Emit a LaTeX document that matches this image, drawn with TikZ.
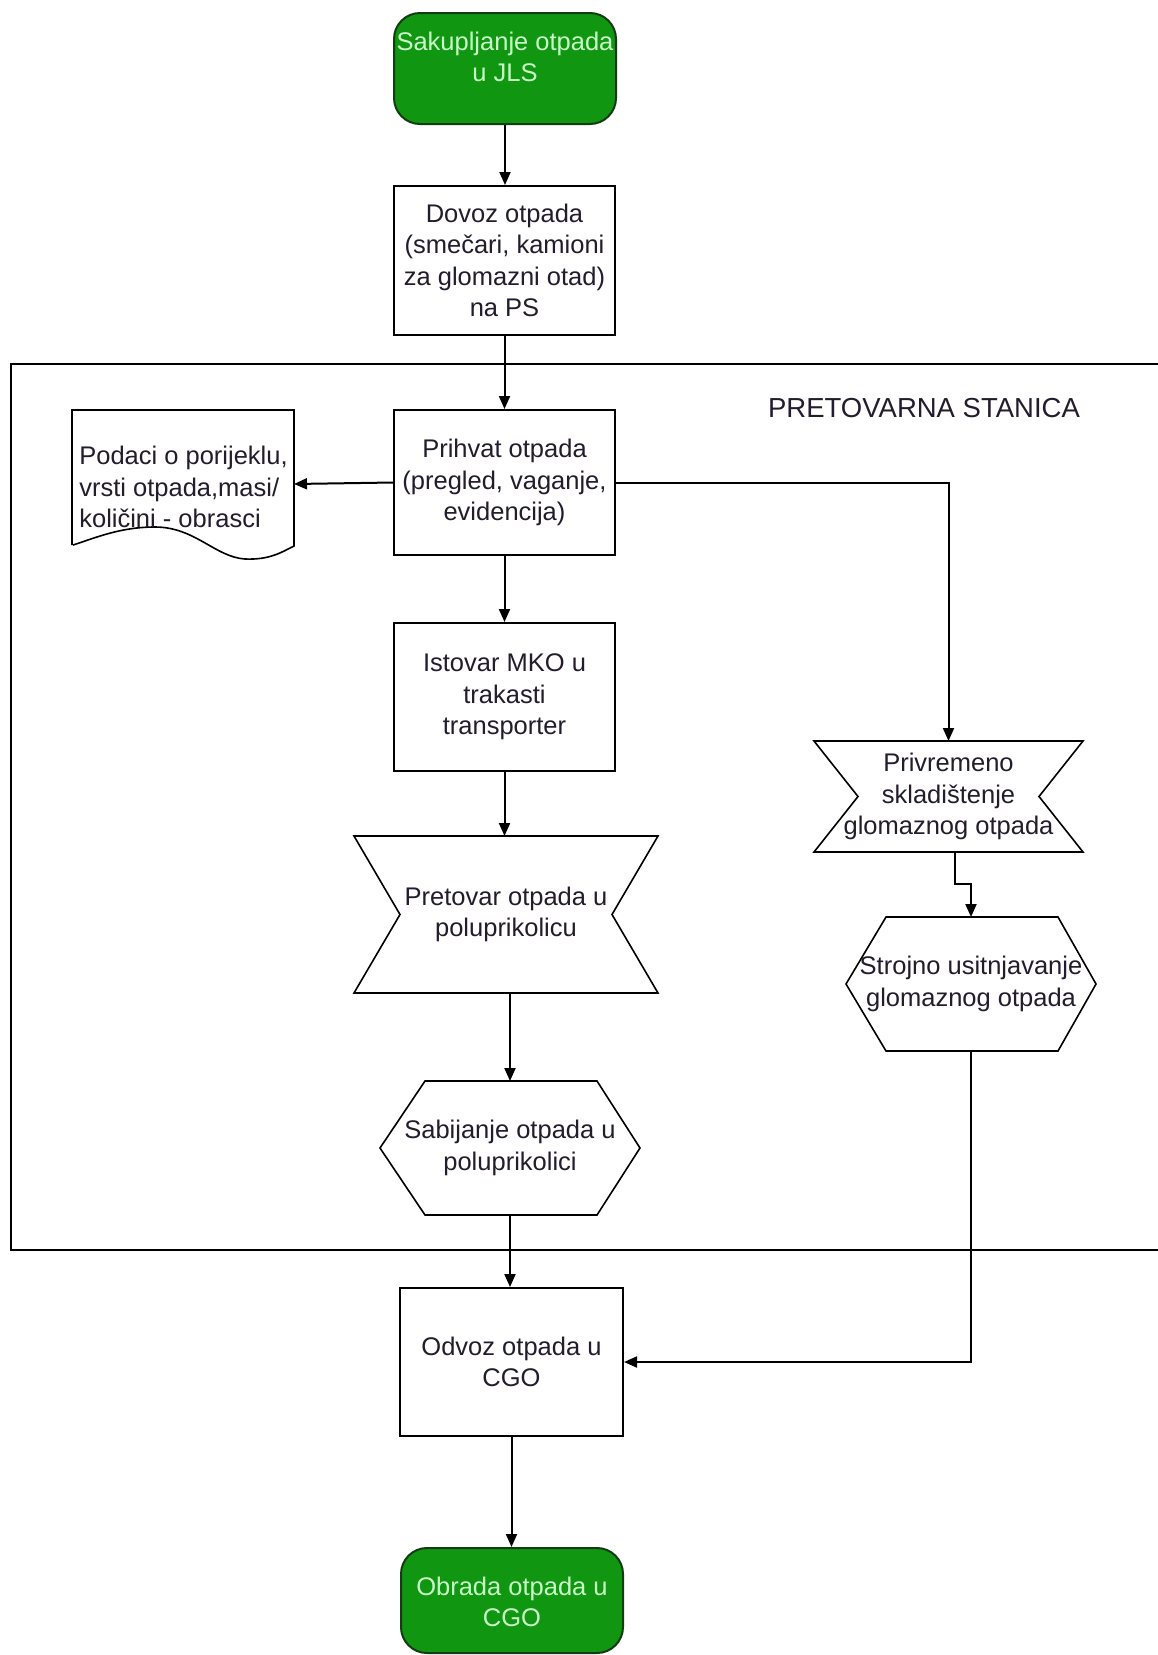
\documentclass[tikz,border=0pt]{standalone}
\usepackage{fontspec}
\setmainfont{Liberation Sans}
\usetikzlibrary{arrows.meta,calc}
\definecolor{gfill}{RGB}{16,150,16}
\definecolor{gline}{RGB}{20,60,20}
\definecolor{gtext}{RGB}{200,255,200}
\definecolor{ink}{RGB}{35,28,45}
\begin{document}
\begin{tikzpicture}[x=1pt,y=-1pt,line width=2pt,
  txt/.style={font=\fontsize{25.5}{31.5}\selectfont,text=ink,align=center},
  boxn/.style={txt,draw,rectangle,inner sep=0pt},
  ghost/.style={txt,rectangle,inner sep=0pt},
  term/.style={draw=gline,fill=gfill,rectangle,rounded corners=26pt,inner sep=0pt},
  shapeline/.style={line width=1.6pt},
  arr/.style={-{Triangle[length=13pt,width=11pt]},line width=2pt}]
\useasboundingbox (0,0) rectangle (1157,1655);
\fill[white] (0,0) rectangle (1157,1655);

% frame of the transfer station
\draw[line width=2pt] (1160,364) -- (11,364) -- (11,1250) -- (1160,1250);
\node[txt,font=\fontsize{27.5}{32}\selectfont] (title) at (924,408) {PRETOVARNA STANICA};

% terminals
\node[term,minimum width=222pt,minimum height=111pt] (start) at (505,68.5) {};
\node[txt,text=gtext] (startT) at (505,57) {Sakupljanje otpada\\u JLS};
\node[term,minimum width=222pt,minimum height=105pt] (obr) at (512,1600.5) {};
\node[txt,text=gtext] (obrT) at (512,1602) {Obrada otpada u\\CGO};

% process boxes
\node[boxn,minimum width=221pt,minimum height=149pt] (dovoz) at (504.5,260.5)
  {Dovoz otpada\\(smečari, kamioni\\za glomazni otad)\\na PS};
\node[boxn,minimum width=221pt,minimum height=145pt] (prih) at (504.5,482.5)
  {Prihvat otpada\\(pregled, vaganje,\\evidencija)};
\node[boxn,minimum width=221pt,minimum height=148pt] (ist) at (504.5,697)
  {Istovar MKO u\\trakasti\\transporter};
\node[boxn,minimum width=223pt,minimum height=148pt] (odv) at (511.5,1362)
  {Odvoz otpada u\\CGO};

% document
\node[ghost,minimum width=220pt,minimum height=146pt] (doc) at (183,484) {};
\draw[shapeline] (doc.south west |- 0,545) -- (doc.north west) -- (doc.north east) -- (doc.east |- 0,546)
  .. controls (282,552) and (270,560) .. (245,559)
  .. controls (215,557) and (195,527) .. (155,527)
  .. controls (120,527) and (95,538) .. (73,545);
\node[txt,align=left,anchor=west] (docT) at (75,487)
  {Podaci o porijeklu,\\vrsti otpada,masi/\\količini - obrasci};

% bow-tie shapes
\node[ghost,minimum width=302pt,minimum height=155pt] (pret) at (506,914.5)
  {Pretovar otpada u\\poluprikolicu};
\draw[shapeline] (pret.north west) -- (pret.north east) -- ([xshift=-46pt]pret.east)
  -- (pret.south east) -- (pret.south west) -- ([xshift=46pt]pret.west) -- cycle;
\node[ghost,minimum width=267pt,minimum height=109pt] (priv) at (948.5,796.5)
  {Privremeno\\skladištenje\\glomaznog otpada};
\draw[shapeline] (priv.north west) -- (priv.north east) -- ([xshift=-44pt]priv.east)
  -- (priv.south east) -- (priv.south west) -- ([xshift=44pt]priv.west) -- cycle;

% hexagons
\node[ghost,minimum width=258pt,minimum height=132pt] (sab) at (510,1148)
  {Sabijanje otpada u\\poluprikolici};
\draw[shapeline] ([xshift=45pt]sab.north west) -- ([xshift=-43pt]sab.north east) -- (sab.east)
  -- ([xshift=-43pt]sab.south east) -- ([xshift=45pt]sab.south west) -- (sab.west) -- cycle;
\node[ghost,minimum width=248pt,minimum height=132pt] (stro) at (971,984)
  {Strojno usitnjavanje\\glomaznog otpada};
\draw[shapeline] ([xshift=40pt]stro.north west) -- ([xshift=-38pt]stro.north east) -- (stro.east)
  -- ([xshift=-38pt]stro.south east) -- ([xshift=40pt]stro.south west) -- (stro.west) -- cycle;

% connectors
\draw[arr] (start.south) -- (start.south |- dovoz.north);
\draw[arr] (dovoz.south) -- (prih.north);
\draw[arr] (prih.west) -- (doc.east);
\draw[arr] (prih.east) -| (priv.north);
\draw[arr] (prih.south) -- (ist.north);
\draw[arr] (ist.south) -- (ist.south |- pret.north);
\draw[arr] (sab.north |- pret.south) -- (sab.north);
\draw[arr] (sab.south) -- (sab.south |- odv.north);
\draw[arr] ($(priv.south)+(6,0)$) -- ++(0,32) -| (stro.north);
\draw[arr] (stro.south) |- (odv.east);
\draw[arr] (odv.south) -- (odv.south |- obr.north);
\end{tikzpicture}
\end{document}
